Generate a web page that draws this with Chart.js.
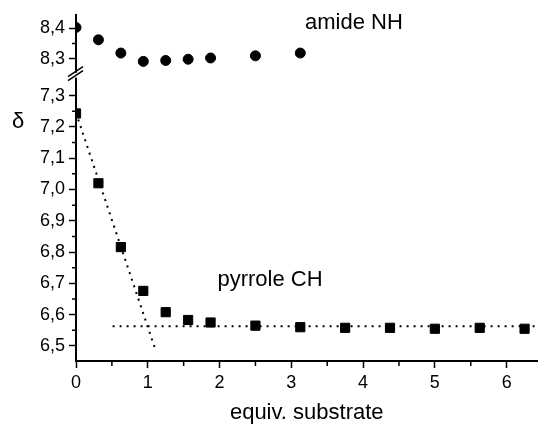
<!DOCTYPE html>
<html>
<head>
<meta charset="utf-8">
<script src="https://cdn.jsdelivr.net/npm/chart.js@4"></script>
<style>
  body { margin: 0; background: #fff; }
  canvas { display: block; }
</style>
</head>
<body>
<canvas id="nmr" width="545" height="424"></canvas>
<script>
// equivalents of substrate added
const equiv = [0, 0.3125, 0.625, 0.9375, 1.25, 1.5625, 1.875, 2.5, 3.125, 3.75, 4.375, 5.0, 5.625, 6.25];
const amideNH = [8.402, 8.362, 8.319, 8.292, 8.295, 8.299, 8.303, 8.310, 8.319];
const pyrroleCH = [7.243, 7.020, 6.816, 6.676, 6.608, 6.583, 6.575, 6.565, 6.560, 6.558, 6.558, 6.555, 6.558, 6.555];

// dotted guide lines
const slopeX = [0, 1.105];
const slopeY = [7.245, 6.489];
const plateauX = [0.51, 6.45];
const plateauY = [6.563, 6.563];

const xTicks = [0, 1, 2, 3, 4, 5, 6];
const xMinor = [0.5, 1.5, 2.5, 3.5, 4.5, 5.5];
const topTicks = [8.3, 8.4];
const topMinor = [8.35];
const botTicks = [6.5, 6.6, 6.7, 6.8, 6.9, 7.0, 7.1, 7.2, 7.3];
const botMinor = [6.55, 6.65, 6.75, 6.85, 6.95, 7.05, 7.15, 7.25];

const FONT = "'Liberation Sans', Arial, sans-serif";
const comma = v => v.toFixed(1).replace('.', ',');

const pts = (xs, ys) => ys.map((y, i) => ({ x: xs[i], y: y }));

const axisStyle = {
    grid: { drawOnChartArea: false, drawTicks: true, tickLength: 7, tickColor: '#000', tickWidth: 1.5 },
    border: { color: '#000', width: 2 },
};
const tickFont = { family: FONT, size: 18 };

// minor ticks, text labels, delta symbol, axis break
const extras = {
    id: 'extras',
    afterDraw(chart) {
        const ctx = chart.ctx;
        const { x, yTop, yBot } = chart.scales;
        ctx.save();
        ctx.strokeStyle = '#000';
        ctx.lineWidth = 1.5;
        ctx.beginPath();
        xMinor.forEach(v => {
            const px = x.getPixelForValue(v);
            ctx.moveTo(px, x.top); ctx.lineTo(px, x.top + 5);
        });
        topMinor.forEach(v => {
            const py = yTop.getPixelForValue(v);
            ctx.moveTo(yTop.right, py); ctx.lineTo(yTop.right - 4, py);
        });
        botMinor.forEach(v => {
            const py = yBot.getPixelForValue(v);
            ctx.moveTo(yBot.right, py); ctx.lineTo(yBot.right - 4, py);
        });
        ctx.stroke();

        // axis break
        const bx = yTop.right;
        const by = yTop.bottom;
        ctx.fillStyle = '#fff';
        ctx.fillRect(bx - 3, by - 2, 6, 5);
        ctx.lineWidth = 1.5;
        ctx.beginPath();
        ctx.moveTo(bx - 8, by + 6); ctx.lineTo(bx + 7, by - 4);
        ctx.moveTo(bx - 8, by + 2); ctx.lineTo(bx + 7, by - 8);
        ctx.stroke();

        ctx.fillStyle = '#000';
        ctx.font = '22px ' + FONT;
        ctx.textBaseline = 'middle';
        ctx.textAlign = 'left';
        ctx.fillText('amide NH', x.getPixelForValue(3.19), yTop.getPixelForValue(8.417));
        ctx.fillText('pyrrole CH', x.getPixelForValue(1.97), yBot.getPixelForValue(6.71));
        ctx.textAlign = 'center';
        ctx.fillText('δ', 18, 122);
        ctx.restore();
    }
};

new Chart(document.getElementById('nmr'), {
    type: 'scatter',
    data: {
        datasets: [
            {
                label: 'amide NH',
                data: pts(equiv, amideNH),
                yAxisID: 'yTop',
                pointStyle: 'circle',
                pointRadius: 5,
                backgroundColor: '#000',
                borderColor: '#000',
            },
            {
                label: 'pyrrole CH',
                data: pts(equiv, pyrroleCH),
                yAxisID: 'yBot',
                pointStyle: 'rect',
                pointRadius: 6.5,
                backgroundColor: '#000',
                borderColor: '#000',
            },
            {
                label: 'slope',
                type: 'line',
                data: pts(slopeX, slopeY),
                yAxisID: 'yBot',
                borderColor: '#000',
                borderWidth: 2,
                borderDash: [2, 5],
                pointRadius: 0,
            },
            {
                label: 'plateau',
                type: 'line',
                data: pts(plateauX, plateauY),
                yAxisID: 'yBot',
                borderColor: '#000',
                borderWidth: 2,
                borderDash: [2, 5],
                pointRadius: 0,
            },
        ]
    },
    options: {
        responsive: false,
        animation: false,
        layout: { padding: { top: 14, right: 0, left: 0, bottom: 0 } },
        plugins: { legend: { display: false }, tooltip: { enabled: false } },
        scales: {
            x: {
                type: 'linear',
                min: 0,
                max: 6.43,
                ...axisStyle,
                afterBuildTicks: s => { s.ticks = xTicks.map(v => ({ value: v })); },
                afterFit: s => { s.height = 63; },
                ticks: { color: '#000', font: tickFont, padding: 4, autoSkip: false, callback: v => String(v) },
                title: { display: true, text: 'equiv. substrate', color: '#000', font: { family: FONT, size: 22 }, padding: { top: 11, bottom: -2 } },
            },
            yBot: {
                type: 'linear',
                position: 'left',
                stack: 'delta',
                stackWeight: 287,
                min: 6.452,
                max: 7.367,
                ...axisStyle,
                afterBuildTicks: s => { s.ticks = botTicks.map(v => ({ value: v })); },
                afterFit: s => { s.width = 76; },
                ticks: { color: '#000', font: tickFont, padding: 4, autoSkip: false, callback: v => comma(v) },
            },
            yTop: {
                type: 'linear',
                position: 'left',
                stack: 'delta',
                stackWeight: 60,
                min: 8.249,
                max: 8.443,
                ...axisStyle,
                afterBuildTicks: s => { s.ticks = topTicks.map(v => ({ value: v })); },
                afterFit: s => { s.width = 76; },
                ticks: { color: '#000', font: tickFont, padding: 4, autoSkip: false, callback: v => comma(v) },
            },
        }
    },
    plugins: [extras]
});
</script>
</body>
</html>
